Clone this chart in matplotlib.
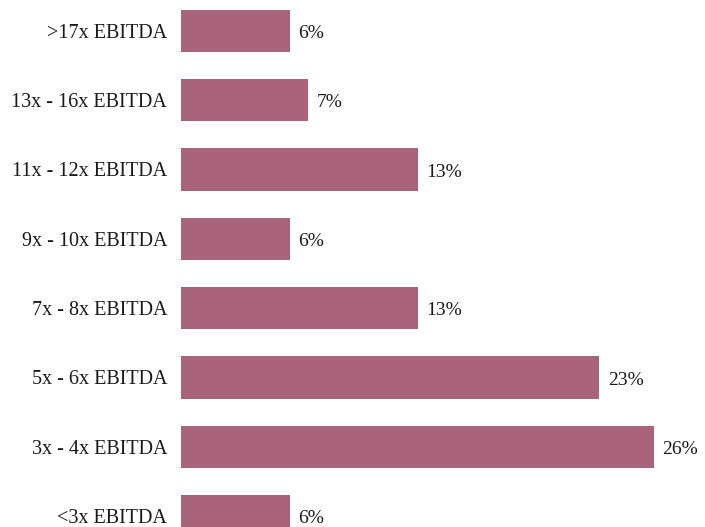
import matplotlib.pyplot as plt

categories = ["<3x EBITDA", "3x - 4x EBITDA", "5x - 6x EBITDA", "7x - 8x EBITDA",
              "9x - 10x EBITDA", "11x - 12x EBITDA", "13x - 16x EBITDA", ">17x EBITDA"]
shares = [6, 26, 23, 13, 6, 13, 7, 6]

plt.rcParams['font.family'] = ['Liberation Serif', 'DejaVu Serif']

fig = plt.figure(figsize=(7.05, 5.27), dpi=100)
ax = fig.add_axes([181 / 705, 0, 524 / 705, 1])

pos = list(range(len(categories)))
ax.barh(pos, shares, height=0.61, color='#a9637a')

for y, v in zip(pos, shares):
    ax.annotate(f"{v}%", (v, y), xytext=(6, -2), textcoords='offset points',
                va='center', ha='left', fontsize=14, color='#1a1a1a')

ax.set_xlim(0, 28.8)
ax.set_ylim(-0.159, 7.446)
ax.set_yticks(pos)
ax.set_yticklabels(categories, fontsize=14.5, color='#1a1a1a')
ax.tick_params(axis='y', length=0, pad=10)
ax.set_xticks([])
for s in ax.spines.values():
    s.set_visible(False)

fig.savefig('out.png', dpi=100)
